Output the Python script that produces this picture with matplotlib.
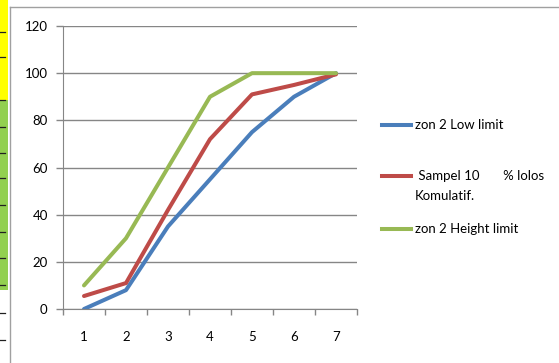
import matplotlib
matplotlib.use("Agg")
import matplotlib.pyplot as plt
from matplotlib.lines import Line2D
from matplotlib.patches import Rectangle

categories = [1, 2, 3, 4, 5, 6, 7]
low_limit = [0, 8, 35, 55, 75, 90, 100]
sampel = [5.5, 11, 42, 72, 91, 95, 99.5]
high_limit = [10, 30, 60, 90, 100, 100, 100]
y_ticks = [0, 20, 40, 60, 80, 100, 120]

labels = ["zon 2 Low limit", " Sampel 10       % lolos\nKomulatif.", "zon 2 Height limit"]
colors = ["#4A7EBB", "#BE4B48", "#98B954"]

plt.rcParams['font.family'] = ['Lato', 'DejaVu Sans']

W, H = 559, 363
fig = plt.figure(figsize=(W / 100, H / 100), dpi=100)

def fx(px):
    return px / W

def fy(py):
    return 1 - py / H

# left-edge remnant strip
fig.add_artist(Rectangle((0, fy(100)), fx(8), fy(0) - fy(100), transform=fig.transFigure,
                         facecolor="#FFFF00", edgecolor="none"))
fig.add_artist(Rectangle((0, fy(290)), fx(8), fy(100) - fy(290), transform=fig.transFigure,
                         facecolor="#92D050", edgecolor="none"))
for ty in [32, 57, 100, 127, 153, 178, 205, 232, 258, 285, 313, 340]:
    fig.add_artist(Line2D([0, fx(5)], [fy(ty), fy(ty)], transform=fig.transFigure,
                          color="#202020", lw=0.9))

# chart frame
fig.add_artist(Line2D([fx(10), fx(10)], [fy(7), 0], transform=fig.transFigure, color="#A0A0A0", lw=1))
fig.add_artist(Line2D([fx(10), 1], [fy(7), fy(7)], transform=fig.transFigure, color="#A0A0A0", lw=1))

ax = fig.add_axes([fx(63), fy(309), fx(357) - fx(63), fy(26) - fy(309)])
series = [low_limit, sampel, high_limit]
for vals, c in zip(series, colors):
    ax.plot(categories, vals, color=c, lw=2.9, solid_capstyle="round", solid_joinstyle="round")

ax.set_xlim(0.5, 7.5)
ax.set_ylim(0, 120)
ax.set_yticks(y_ticks)
ax.set_xticks(categories)
ax.set_xticks([c + 0.5 for c in [0] + categories], minor=True)
ax.tick_params(axis="x", which="major", length=0, pad=16, labelsize=9.5, colors="#000000")
ax.tick_params(axis="x", which="minor", length=4, color="#868686", width=1)
ax.tick_params(axis="y", length=5, color="#868686", width=1, pad=6, labelsize=9.5)
ax.grid(axis="y", color="#868686", lw=1)
ax.set_axisbelow(True)
for s in ["top", "right"]:
    ax.spines[s].set_visible(False)
ax.spines["left"].set_color("#868686")
ax.spines["bottom"].set_color("#868686")

# legend
entries = [(125, labels[0]), (176, labels[1]), (229, labels[2])]
for (ly, lab), c in zip(entries, colors):
    fig.add_artist(Line2D([fx(382), fx(411)], [fy(ly), fy(ly)], transform=fig.transFigure,
                          color=c, lw=2.9))
    for i, line in enumerate(lab.split("\n")):
        fig.text(fx(415), fy(ly + 20 * i), line, fontsize=9.5, va="center", ha="left")

fig.savefig("out.png", dpi=100)
